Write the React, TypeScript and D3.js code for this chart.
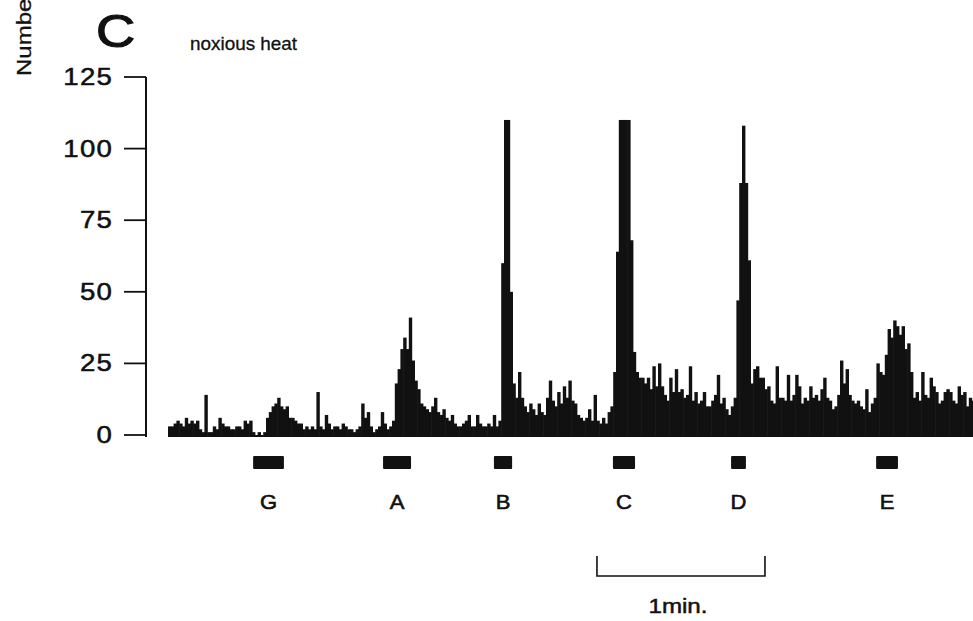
import React from 'react';
import * as d3 from 'd3';

const W = 973;
const H = 621;

// y-axis ticks (impulses per bin)
const yTicks = [0, 25, 50, 75, 100, 125];

// impulse counts per 1-s bin
const counts = [
  3, 3, 4, 5, 4, 3, 6, 4, 5, 4,
  5, 2, 1, 14, 1, 1, 3, 2, 6, 4,
  3, 3, 2, 2, 3, 3, 2, 5, 4, 5,
  1, 0, 1, 0, 1, 6, 8, 10, 11, 13,
  10, 9, 10, 6, 6, 5, 4, 4, 2, 3,
  2, 3, 2, 15, 3, 2, 7, 4, 2, 3,
  3, 2, 4, 3, 2, 2, 1, 2, 3, 11,
  6, 8, 3, 1, 2, 3, 8, 4, 2, 3,
  5, 18, 23, 30, 34, 30, 41, 26, 19, 16,
  11, 10, 9, 8, 10, 13, 8, 7, 9, 6,
  5, 7, 4, 3, 3, 4, 5, 7, 3, 3,
  7, 4, 3, 3, 4, 3, 7, 3, 5, 60,
  110, 110, 50, 18, 13, 22, 13, 10, 8, 11,
  9, 7, 11, 8, 7, 13, 19, 12, 10, 15,
  11, 17, 13, 19, 12, 11, 7, 6, 5, 6,
  9, 5, 14, 5, 4, 6, 4, 8, 10, 22,
  64, 110, 110, 110, 110, 68, 29, 22, 20, 20,
  18, 20, 16, 24, 17, 25, 17, 14, 12, 20,
  15, 23, 15, 16, 13, 14, 24, 12, 15, 11,
  12, 15, 10, 10, 12, 14, 21, 11, 13, 9,
  7, 10, 13, 47, 88, 108, 88, 61, 18, 23,
  24, 20, 20, 16, 17, 12, 11, 24, 13, 13,
  12, 21, 12, 14, 21, 17, 11, 13, 12, 17,
  13, 14, 12, 16, 20, 13, 12, 9, 10, 14,
  26, 18, 23, 14, 12, 11, 12, 10, 9, 16,
  8, 11, 13, 25, 22, 21, 28, 37, 34, 40,
  38, 35, 38, 30, 32, 22, 13, 15, 12, 22,
  14, 13, 20, 17, 15, 11, 12, 15, 16, 15,
  12, 11, 17, 14, 15, 10, 13, 12,
];

// stimulus periods (s from histogram start)
const stimLabels = ['G', 'A', 'B', 'C', 'D', 'E'];
const stimStart = [30.4, 76.8, 116.4, 158.9, 201.1, 252.9];
const stimEnd = [41.4, 86.8, 122.9, 166.8, 206.4, 260.7];

// calibration bar
const scaleBarStart = 153.2;
const scaleBarSeconds = 60;
const scaleBarLabel = '1min.';

const FONT = '"Liberation Sans", Arial, Helvetica, sans-serif';

function SText(props: {
  x: number; y: number; size: number; sx?: number; anchor?: string;
  ls?: number; children: React.ReactNode; rotate?: number; sw?: number;
}) {
  const { x, y, size, sx = 1.15, anchor = 'start', ls = 0, children, rotate = 0, sw = 0.4 } = props;
  return (
    <g transform={`translate(${x},${y}) rotate(${rotate}) scale(${sx},1)`}>
      <text
        textAnchor={anchor as any}
        fontSize={size}
        fontFamily={FONT}
        letterSpacing={ls}
        fill="#111"
        stroke="#111"
        strokeWidth={sw}
      >
        {children}
      </text>
    </g>
  );
}

export default function App() {
  const x = d3.scaleLinear().domain([0, 290]).range([168, 980]);
  const y = d3.scaleLinear().domain([0, 125]).range([435, 77]);
  const axisX = 146;

  return (
    <svg
      width={W}
      height={H}
      viewBox={`0 0 ${W} ${H}`}
      style={{ position: 'absolute', left: 0, top: 0, background: '#fff' }}
    >
      {/* y axis label (clipped at top, as in the source figure) */}
      <SText x={31} y={76} size={20} sx={1.2} rotate={-90} sw={0.3}>Number of impulses/bin</SText>

      {/* panel letter and title */}
      <SText x={96} y={47} size={46} sx={1.18} sw={1.2}>C</SText>
      <SText x={190} y={50} size={18} sx={1.05} sw={0.3}>noxious heat</SText>

      {/* y axis */}
      <line x1={axisX} x2={axisX} y1={y(125)} y2={y(0) + 2} stroke="#111" strokeWidth={2} />
      {yTicks.map((t) => (
        <g key={t}>
          <line x1={axisX - 22} x2={axisX} y1={y(t)} y2={y(t)} stroke="#111" strokeWidth={1.8} />
          <SText x={113} y={y(t) + 8} size={23} sx={1.2} ls={1} anchor="end" sw={0.5}>{t}</SText>
        </g>
      ))}

      {/* histogram */}
      <g fill="#111">
        {counts.map((c, i) => {
          const x0 = x(i);
          const x1 = x(i + 1);
          return (
            <rect
              key={i}
              x={x0}
              y={y(c)}
              width={x1 - x0 + 0.6}
              height={y(0) - y(c) + 2}
            />
          );
        })}
      </g>

      {/* stimulus markers */}
      {stimLabels.map((lab, i) => {
        const xs = x(stimStart[i]);
        const xe = x(stimEnd[i]);
        return (
          <g key={lab}>
            <rect x={xs} y={456} width={xe - xs} height={13} fill="#111" rx={1} />
            <SText x={(xs + xe) / 2} y={509} size={20} sx={1.1} anchor="middle" sw={0.6}>{lab}</SText>
          </g>
        );
      })}

      {/* time calibration */}
      {(() => {
        const xs = x(scaleBarStart);
        const xe = x(scaleBarStart + scaleBarSeconds);
        return (
          <g>
            <path
              d={`M${xs},556 V576 H${xe} V556`}
              fill="none"
              stroke="#111"
              strokeWidth={1.6}
            />
            <SText x={(xs + xe) / 2 - 3} y={613} size={21} sx={1.15} anchor="middle" sw={0.5}>{scaleBarLabel}</SText>
          </g>
        );
      })()}
    </svg>
  );
}
